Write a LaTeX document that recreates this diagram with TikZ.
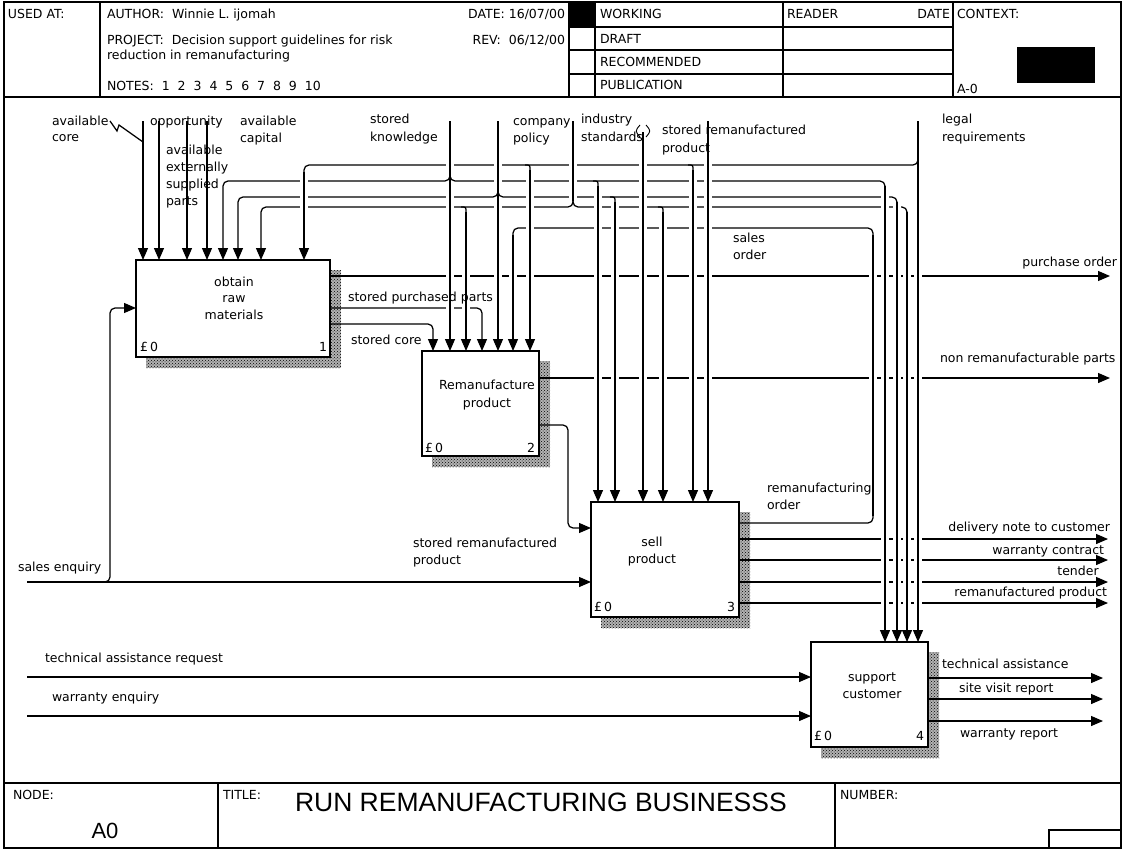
\documentclass[tikz,border=0pt]{standalone}
\usepackage{fontspec}
\setmainfont{DejaVu Sans}
\newfontfamily\titlefont{Liberation Sans}
\usetikzlibrary{arrows.meta,patterns}
\newcounter{mylbc}
\newcommand\mylbl[4][base west]{\stepcounter{mylbc}\edef\mylname{L\arabic{mylbc}}\node[txt,anchor=#1] (\mylname) at (#2,#3) {#4};}
\begin{document}
\begin{tikzpicture}[x=1pt,y=-1pt,
 every node/.style={inner sep=0pt,outer sep=0pt},
 txt/.style={font=\fontsize{12.5}{15}\selectfont},
 ln/.style={line width=1.25pt},
 arr/.style={line width=1.25pt,-{Triangle[length=12pt,width=10pt]}},
 pre/.style={preaction={draw=white,line width=8pt,arrows=-}},
 prea/.style={preaction={draw=white,line width=8pt,arrows=-,shorten >=14pt}},
 rc/.style={rounded corners=5pt},
 fbox/.style={draw,line width=1.3pt,fill=white,anchor=north west},
 shad/.style={fill=black!30,postaction={pattern=crosshatch dots,pattern color=black}},
 frm/.style={line width=1.3pt}]
\useasboundingbox (0,0) rectangle (1123,848);
% ---------- frame, header, footer
\draw[frm] (4,2) rectangle (1121,848);
\draw[frm] (4,97) -- (1121,97);
\draw[frm] (4,783) -- (1121,783);
\draw[ln] (100,2) -- (100,97);
\draw[ln] (569,2)--(569,97) (595,2)--(595,97) (783,2)--(783,97) (953,2)--(953,97);
\draw[ln] (569,27)--(953,27) (569,50)--(953,50) (569,74)--(953,74);
\node[fill=black,minimum width=26pt,minimum height=25pt,anchor=north west] (wk) at (569,2) {};
\node[fill=black,minimum width=78pt,minimum height=36pt,anchor=north west] (ctx) at (1017,47) {};
\draw[ln] (218,783)--(218,848) (835,783)--(835,848);
\draw[ln] (1049,830) rectangle (1121,848);
% ---------- shadows
\path[shad] (146,270) rectangle (341,368);
\path[shad] (432,361) rectangle (550,467);
\path[shad] (601,512) rectangle (750,628);
\path[shad] (821,652) rectangle (939,758);
% ---------- boxes
\node[fbox,minimum width=194pt,minimum height=97pt] (b1) at (136,260) {};
\node[fbox,minimum width=117pt,minimum height=105pt] (b2) at (422,351) {};
\node[fbox,minimum width=148pt,minimum height=115pt] (b3) at (591,502) {};
\node[fbox,minimum width=117pt,minimum height=105pt] (b4) at (811,642) {};
% ---------- free ends
\coordinate (po) at (1110,276);
\coordinate (nrp) at (1110,378);
\coordinate (se) at (27,582);
\coordinate (tar) at (27,677);
\coordinate (we) at (27,716);
\coordinate (o1) at (1108,539);
\coordinate (o2) at (1108,560);
\coordinate (o3) at (1108,582);
\coordinate (o4) at (1108,603);
\coordinate (p1) at (1103,678);
\coordinate (p2) at (1103,699);
\coordinate (p3) at (1103,721);
% ---------- horizontal runs
\draw[ln,rc] (918,158) -- (918,165) -- (304,165) -- (304,172);
\draw[arr,rc] (450,174) -- (450,181) -- (223,181) -- (223,0 |- b1.north);
\draw[ln,rc] (450,174) -- (450,181) -- (885,181) -- (885,186);
\draw[arr,rc] (498,190) -- (498,197) -- (238,197) -- (238,0 |- b1.north);
\draw[ln,rc] (498,190) -- (498,197) -- (897,197) -- (897,202);
\draw[arr,rc] (573,200) -- (573,207) -- (261,207) -- (261,0 |- b1.north);
\draw[ln,rc] (573,200) -- (573,207) -- (907,207) -- (907,212);
\draw[ln] (525,165) .. controls (530,165) .. (530,170);
\draw[ln] (688,165) .. controls (693,165) .. (693,170);
\draw[ln] (593,181) .. controls (598,181) .. (598,186);
\draw[ln] (610,197) .. controls (615,197) .. (615,202);
\draw[ln] (461,207) .. controls (466,207) .. (466,212);
\draw[ln] (658,207) .. controls (663,207) .. (663,212);
\draw[ln,rc] (b3.east |- 0,523) -- (873,523) -- (873,516);
\draw[ln,rc] (873,235) -- (873,228) -- (513,228) -- (513,235);
\draw[arr] (b1.east |- po) -- (po);
\draw[arr,rc] (b1.east |- 0,308) -- (482,308) -- (482,0 |- b2.north);
\draw[arr,rc] (b1.east |- 0,324) -- (433,324) -- (433,0 |- b2.north);
\draw[arr] (b2.east |- nrp) -- (nrp);
\draw[arr,rc] (b2.east |- 0,425) -- (568,425) -- (568,528) -- (b3.west |- 0,528);
\draw[arr] (se) -- (b3.west |- se);
\draw[arr,rc] (103,582) -- (110,582) -- (110,308) -- (b1.west |- 0,308);
\draw[arr] (b3.east |- o1) -- (o1);
\draw[arr] (b3.east |- o2) -- (o2);
\draw[arr] (b3.east |- o3) -- (o3);
\draw[arr] (b3.east |- o4) -- (o4);
\draw[arr] (tar) -- (b4.west |- tar);
\draw[arr] (we) -- (b4.west |- we);
\draw[arr] (b4.east |- p1) -- (p1);
\draw[arr] (b4.east |- p2) -- (p2);
\draw[arr] (b4.east |- p3) -- (p3);
% ---------- vertical runs (gaps in crossed lines)
\draw[arr] (143,121) -- (143,0 |- b1.north);
\draw[arr] (159,121) -- (159,0 |- b1.north);
\draw[arr] (187,121) -- (187,0 |- b1.north);
\draw[arr] (207,121) -- (207,0 |- b1.north);
\draw[ln] (110,121) -- (117,131) -- (119,125) -- (143,142);
\draw[arr,prea] (304,172) -- (304,0 |- b1.north);
\draw[ln,pre] (450,121) -- (450,176);
\draw[ln] (450,176) -- (450,186);
\draw[arr,prea] (450,186) -- (450,0 |- b2.north);
\draw[arr,prea] (466,212) -- (466,0 |- b2.north);
\draw[ln,pre] (498,121) -- (498,192);
\draw[ln] (498,192) -- (498,202);
\draw[arr,prea] (498,202) -- (498,0 |- b2.north);
\draw[arr,prea] (513,235) -- (513,0 |- b2.north);
\draw[arr,prea] (530,170) -- (530,0 |- b2.north);
\draw[ln,pre] (573,121) -- (573,201);
\draw[arr,prea] (598,186) -- (598,0 |- b3.north);
\draw[arr,prea] (615,202) -- (615,0 |- b3.north);
\draw[arr,prea] (643,132) -- (643,0 |- b3.north);
\draw[line width=0.9pt] (640,125) .. controls (635,131) .. (640,137);
\draw[line width=0.9pt] (646,125) .. controls (651,131) .. (646,137);
\draw[arr,prea] (663,212) -- (663,0 |- b3.north);
\draw[arr,prea] (693,170) -- (693,0 |- b3.north);
\draw[arr,prea] (708,121) -- (708,0 |- b3.north);
\draw[ln,pre] (873,516) -- (873,235);
\draw[arr,prea] (885,186) -- (885,0 |- b4.north);
\draw[arr,prea] (897,202) -- (897,0 |- b4.north);
\draw[arr,prea] (907,212) -- (907,0 |- b4.north);
\draw[ln] (918,121) -- (918,170);
\draw[arr,prea] (918,170) -- (918,0 |- b4.north);
% ---------- header texts
\mylbl{8}{19}{USED AT:}
\mylbl{107}{19}{AUTHOR:\ \ Winnie L. ijomah}
\mylbl[base east]{565}{19}{DATE: 16/07/00}
\mylbl{107}{45}{PROJECT:\ \ Decision support guidelines for risk}
\mylbl{107}{60}{reduction in remanufacturing}
\mylbl[base east]{565}{45}{REV:\ \ 06/12/00}
\mylbl{107}{91}{NOTES:\ \ 1\ \ 2\ \ 3\ \ 4\ \ 5\ \ 6\ \ 7\ \ 8\ \ 9\ \ 10}
\mylbl{600}{19}{WORKING}
\mylbl{600}{44}{DRAFT}
\mylbl{600}{67}{RECOMMENDED}
\mylbl{600}{90}{PUBLICATION}
\mylbl{787}{19}{READER}
\mylbl[base east]{950}{19}{DATE}
\mylbl{957}{19}{CONTEXT:}
\mylbl{957}{94}{A-0}
% ---------- footer texts
\mylbl{13}{799}{NODE:}
\mylbl{223}{799}{TITLE:}
\mylbl{840}{799}{NUMBER:}
\node[font=\titlefont\fontsize{22}{24}\selectfont,anchor=base] (nodeid) at (105,838) {A0};
\node[font=\titlefont\fontsize{26.5}{28}\selectfont,anchor=base west] (title) at (295,811) {RUN REMANUFACTURING BUSINESSS};
% ---------- box texts
\mylbl[base]{234}{286}{obtain}
\mylbl[base]{234}{302}{raw}
\mylbl[base]{234}{319}{materials}
\mylbl[base]{487}{389}{Remanufacture}
\mylbl[base]{487}{407}{product}
\mylbl[base]{652}{546}{sell}
\mylbl[base]{652}{563}{product}
\mylbl[base]{872}{681}{support}
\mylbl[base]{872}{698}{customer}
\mylbl{140}{351}{£\,0}
\mylbl[base east]{327}{351}{1}
\mylbl{425}{452}{£\,0}
\mylbl[base east]{535}{452}{2}
\mylbl{594}{611}{£\,0}
\mylbl[base east]{735}{611}{3}
\mylbl{814}{740}{£\,0}
\mylbl[base east]{924}{740}{4}
% ---------- arrow labels
\mylbl{52}{125}{available}
\mylbl{52}{141}{core}
\mylbl{150}{125}{opportunity}
\mylbl{240}{125}{available}
\mylbl{240}{142}{capital}
\mylbl{166}{154}{available}
\mylbl{166}{171}{externally}
\mylbl{166}{188}{supplied}
\mylbl{166}{205}{parts}
\mylbl{370}{124}{stored}
\mylbl{370}{141}{knowledge}
\mylbl{513}{125}{company}
\mylbl{513}{142}{policy}
\mylbl{581}{124}{industry}
\mylbl{581}{141}{standards}
\mylbl{662}{135}{stored remanufactured}
\mylbl{662}{152}{product}
\mylbl{942}{124}{legal}
\mylbl{942}{141}{requirements}
\mylbl{733}{242}{sales}
\mylbl{733}{259}{order}
\mylbl[base east]{1117}{266}{purchase order}
\mylbl{348}{301}{stored purchased parts}
\mylbl{351}{344}{stored core}
\mylbl{940}{362}{non remanufacturable parts}
\mylbl{767}{492}{remanufacturing}
\mylbl{767}{509}{order}
\mylbl[base east]{1110}{531}{delivery note to customer}
\mylbl[base east]{1104}{554}{warranty contract}
\mylbl[base]{1078}{575}{tender}
\mylbl[base east]{1107}{596}{remanufactured product}
\mylbl{413}{547}{stored remanufactured}
\mylbl{413}{564}{product}
\mylbl{18}{571}{sales enquiry}
\mylbl{45}{662}{technical assistance request}
\mylbl{52}{701}{warranty enquiry}
\mylbl{942}{668}{technical assistance}
\mylbl{959}{692}{site visit report}
\mylbl{960}{737}{warranty report}
\end{tikzpicture}
\end{document}
